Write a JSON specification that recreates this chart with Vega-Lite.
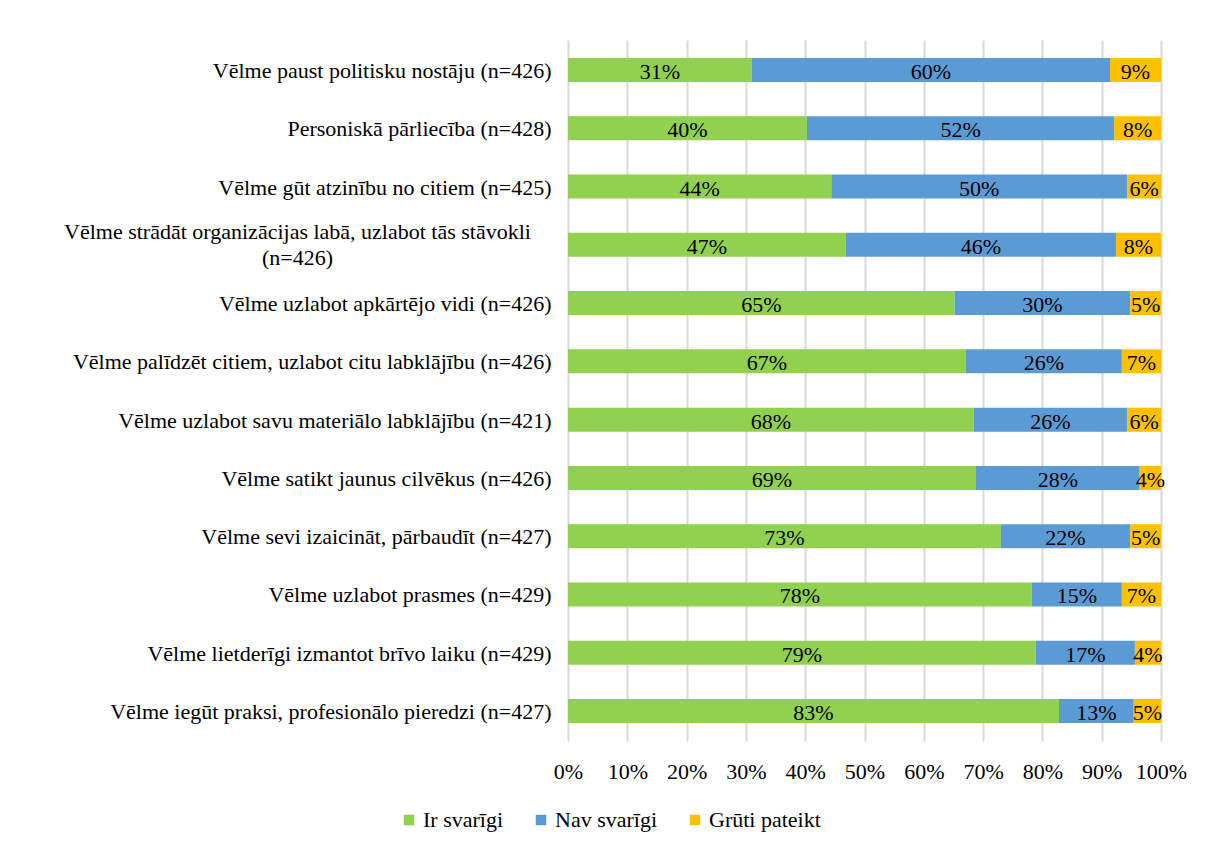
{
  "$schema": "https://vega.github.io/schema/vega-lite/v6.json",
  "width": 593,
  "height": 701,
  "autosize": "none",
  "padding": {"left": 568, "top": 40, "right": 45, "bottom": 108},
  "background": "white",
  "config": {
    "font": "Liberation Serif",
    "view": {"stroke": null}
  },
  "data": {
    "values": [
      {"item": "Vēlme paust politisku nostāju (n=426)", "cat": "Ir svarīgi", "o": 1, "value": 0.310},
      {"item": "Vēlme paust politisku nostāju (n=426)", "cat": "Nav svarīgi", "o": 2, "value": 0.604},
      {"item": "Vēlme paust politisku nostāju (n=426)", "cat": "Grūti pateikt", "o": 3, "value": 0.086},
      {"item": "Personiskā pārliecība (n=428)", "cat": "Ir svarīgi", "o": 1, "value": 0.403},
      {"item": "Personiskā pārliecība (n=428)", "cat": "Nav svarīgi", "o": 2, "value": 0.518},
      {"item": "Personiskā pārliecība (n=428)", "cat": "Grūti pateikt", "o": 3, "value": 0.079},
      {"item": "Vēlme gūt atzinību no citiem (n=425)", "cat": "Ir svarīgi", "o": 1, "value": 0.444},
      {"item": "Vēlme gūt atzinību no citiem (n=425)", "cat": "Nav svarīgi", "o": 2, "value": 0.499},
      {"item": "Vēlme gūt atzinību no citiem (n=425)", "cat": "Grūti pateikt", "o": 3, "value": 0.057},
      {"item": "Vēlme strādāt organizācijas labā, uzlabot tās stāvokli (n=426)", "cat": "Ir svarīgi", "o": 1, "value": 0.469},
      {"item": "Vēlme strādāt organizācijas labā, uzlabot tās stāvokli (n=426)", "cat": "Nav svarīgi", "o": 2, "value": 0.456},
      {"item": "Vēlme strādāt organizācijas labā, uzlabot tās stāvokli (n=426)", "cat": "Grūti pateikt", "o": 3, "value": 0.076},
      {"item": "Vēlme uzlabot apkārtējo vidi (n=426)", "cat": "Ir svarīgi", "o": 1, "value": 0.652},
      {"item": "Vēlme uzlabot apkārtējo vidi (n=426)", "cat": "Nav svarīgi", "o": 2, "value": 0.296},
      {"item": "Vēlme uzlabot apkārtējo vidi (n=426)", "cat": "Grūti pateikt", "o": 3, "value": 0.052},
      {"item": "Vēlme palīdzēt citiem, uzlabot citu labklājību (n=426)", "cat": "Ir svarīgi", "o": 1, "value": 0.671},
      {"item": "Vēlme palīdzēt citiem, uzlabot citu labklājību (n=426)", "cat": "Nav svarīgi", "o": 2, "value": 0.263},
      {"item": "Vēlme palīdzēt citiem, uzlabot citu labklājību (n=426)", "cat": "Grūti pateikt", "o": 3, "value": 0.066},
      {"item": "Vēlme uzlabot savu materiālo labklājību (n=421)", "cat": "Ir svarīgi", "o": 1, "value": 0.684},
      {"item": "Vēlme uzlabot savu materiālo labklājību (n=421)", "cat": "Nav svarīgi", "o": 2, "value": 0.259},
      {"item": "Vēlme uzlabot savu materiālo labklājību (n=421)", "cat": "Grūti pateikt", "o": 3, "value": 0.057},
      {"item": "Vēlme satikt jaunus cilvēkus (n=426)", "cat": "Ir svarīgi", "o": 1, "value": 0.688},
      {"item": "Vēlme satikt jaunus cilvēkus (n=426)", "cat": "Nav svarīgi", "o": 2, "value": 0.276},
      {"item": "Vēlme satikt jaunus cilvēkus (n=426)", "cat": "Grūti pateikt", "o": 3, "value": 0.036},
      {"item": "Vēlme sevi izaicināt, pārbaudīt (n=427)", "cat": "Ir svarīgi", "o": 1, "value": 0.730},
      {"item": "Vēlme sevi izaicināt, pārbaudīt (n=427)", "cat": "Nav svarīgi", "o": 2, "value": 0.218},
      {"item": "Vēlme sevi izaicināt, pārbaudīt (n=427)", "cat": "Grūti pateikt", "o": 3, "value": 0.052},
      {"item": "Vēlme uzlabot prasmes (n=429)", "cat": "Ir svarīgi", "o": 1, "value": 0.782},
      {"item": "Vēlme uzlabot prasmes (n=429)", "cat": "Nav svarīgi", "o": 2, "value": 0.152},
      {"item": "Vēlme uzlabot prasmes (n=429)", "cat": "Grūti pateikt", "o": 3, "value": 0.066},
      {"item": "Vēlme lietderīgi izmantot brīvo laiku (n=429)", "cat": "Ir svarīgi", "o": 1, "value": 0.789},
      {"item": "Vēlme lietderīgi izmantot brīvo laiku (n=429)", "cat": "Nav svarīgi", "o": 2, "value": 0.167},
      {"item": "Vēlme lietderīgi izmantot brīvo laiku (n=429)", "cat": "Grūti pateikt", "o": 3, "value": 0.044},
      {"item": "Vēlme iegūt praksi, profesionālo pieredzi (n=427)", "cat": "Ir svarīgi", "o": 1, "value": 0.828},
      {"item": "Vēlme iegūt praksi, profesionālo pieredzi (n=427)", "cat": "Nav svarīgi", "o": 2, "value": 0.126},
      {"item": "Vēlme iegūt praksi, profesionālo pieredzi (n=427)", "cat": "Grūti pateikt", "o": 3, "value": 0.046}
    ]
  },
  "transform": [
    {"stack": "value", "groupby": ["item"], "sort": [{"field": "o", "order": "ascending"}], "offset": "normalize", "as": ["v0", "v1"]}
  ],
  "encoding": {
    "y": {
      "field": "item",
      "type": "nominal",
      "sort": null,
      "scale": {"paddingInner": 0.588, "paddingOuter": 0.309},
      "axis": {
        "title": null,
        "domain": false,
        "ticks": false,
        "labelFont": "Liberation Serif",
        "labelFontSize": 22,
        "labelColor": "#000000",
        "labelAlign": {"condition": {"test": "datum.value == 'Vēlme strādāt organizācijas labā, uzlabot tās stāvokli (n=426)'", "value": "center"}, "value": "right"},
        "labelPadding": {"condition": {"test": "datum.value == 'Vēlme strādāt organizācijas labā, uzlabot tās stāvokli (n=426)'", "value": 271}, "value": 17},
        "labelOffset": {"condition": {"test": "datum.value == 'Vēlme strādāt organizācijas labā, uzlabot tās stāvokli (n=426)'", "value": -13}, "value": 1},
        "labelLimit": 600,
        "labelLineHeight": 26,
        "labelExpr": "datum.value == 'Vēlme strādāt organizācijas labā, uzlabot tās stāvokli (n=426)' ? ['Vēlme strādāt organizācijas labā, uzlabot tās stāvokli', '(n=426)'] : datum.value"
      }
    }
  },
  "layer": [
    {
      "mark": {"type": "bar"},
      "encoding": {
        "x": {
          "field": "v0",
          "type": "quantitative",
          "scale": {"domain": [0, 1], "nice": false},
          "axis": {
            "title": null,
            "format": ".0%",
            "values": [0, 0.1, 0.2, 0.3, 0.4, 0.5, 0.6, 0.7, 0.8, 0.9, 1],
            "grid": true,
            "gridColor": "#D9D9D9",
            "gridWidth": 2,
            "domain": false,
            "ticks": false,
            "labelFont": "Liberation Serif",
            "labelFontSize": 22,
            "labelColor": "#000000",
            "labelPadding": 20,
            "labelFlush": false
          }
        },
        "x2": {"field": "v1"},
        "color": {
          "field": "cat",
          "type": "nominal",
          "sort": ["Ir svarīgi", "Nav svarīgi", "Grūti pateikt"],
          "scale": {"domain": ["Ir svarīgi", "Nav svarīgi", "Grūti pateikt"], "range": ["#92D050", "#5B9BD5", "#FFC000"]},
          "legend": {
            "title": null,
            "orient": "none",
            "legendX": -170,
            "legendY": 769,
            "padding": 0,
            "direction": "horizontal",
            "symbolType": "square",
            "symbolSize": 110,
            "symbolStrokeWidth": 0,
            "labelFont": "Liberation Serif",
            "labelFontSize": 22,
            "labelColor": "#000000",
            "columnPadding": 26,
            "labelOffset": 3
          }
        }
      }
    },
    {
      "transform": [
        {"fold": ["v0", "v1"], "as": ["edge", "pos"]}
      ],
      "mark": {"type": "text", "fontSize": 22, "font": "Liberation Serif", "color": "#000000", "baseline": "middle", "dy": 2},
      "encoding": {
        "x": {"field": "pos", "type": "quantitative", "aggregate": "mean"},
        "detail": {"field": "cat", "type": "nominal"},
        "text": {"field": "value", "type": "quantitative", "format": ".0%"}
      }
    }
  ]
}
